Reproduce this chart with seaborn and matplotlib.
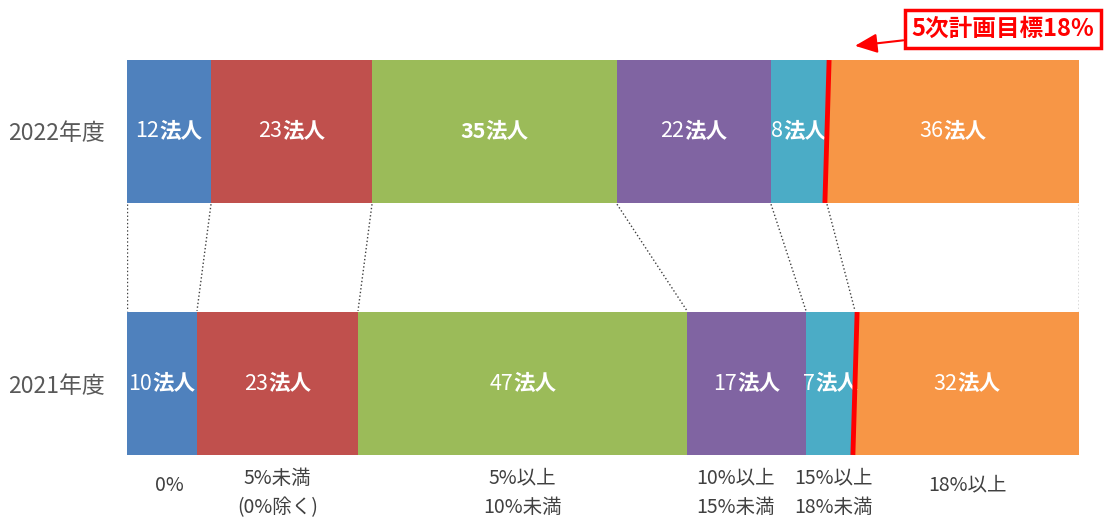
import pandas as pd
import matplotlib.pyplot as plt
import seaborn as sns
from matplotlib.offsetbox import TextArea, HPacker, AnnotationBbox

sns.set_style("white")
plt.rcParams['font.family'] = ['Noto Sans CJK JP', 'DejaVu Sans']

# data
years = ['2022年度', '2021年度']
groups = ['0%', '5%未満\n(0%除く)', '5%以上\n10%未満', '10%以上\n15%未満', '15%以上\n18%未満', '18%以上']
counts_2022 = [12, 23, 35, 22, 8, 36]
counts_2021 = [10, 23, 47, 17, 7, 32]
colors = ['#4F81BD', '#C0504D', '#9BBB59', '#8064A2', '#4BACC6', '#F79646']
target_idx = 5  # segment that starts at the 18% target

rows = []
for year, counts in zip(years, [counts_2022, counts_2021]):
    cum = 0
    for g, c in zip(groups, counts):
        cum += c
        rows.append({'year': year, 'group': g, 'count': c, 'cum': cum})
df = pd.DataFrame(rows)
df['start'] = df['cum'] - df['count']
total = df.groupby('year')['count'].sum().max()

fig = plt.figure(figsize=(11.1, 5.21), dpi=100)
ax = fig.add_axes([127 / 1110, 0, 952 / 1110, 1])

bar_h = 0.567
# stacked bars by overlaying cumulative totals, widest first
for g, col in reversed(list(zip(groups, colors))):
    sns.barplot(data=df[df['group'] == g], x='cum', y='year', order=years,
                color=col, width=bar_h, orient='h', linewidth=0,
                saturation=1, ax=ax)

ax.set_xlim(0, total)
ax.set_ylim(1.5456, -0.5218)
ax.set_xlabel('')
ax.set_ylabel('')
ax.set_xticks([])
sns.despine(ax=ax, left=True, bottom=True)
ax.tick_params(axis='y', length=0, pad=16, labelsize=16.5, labelcolor='#595959')

# segment labels: number regular, 法人 bold
for _, r in df.iterrows():
    yi = years.index(r['year'])
    bold_num = (r['year'] == '2022年度' and r['count'] == 35)
    num = TextArea(str(r['count']), textprops=dict(color='white', fontsize=15.5,
                                                  fontweight='bold' if bold_num else 'normal'))
    unit = TextArea('法人', textprops=dict(color='white', fontsize=15.5, fontweight='bold'))
    pack = HPacker(children=[num, unit], pad=0, sep=0, align='baseline')
    ab = AnnotationBbox(pack, (r['start'] + r['count'] / 2, yi), frameon=False,
                        box_alignment=(0.5, 0.5), pad=0)
    ax.add_artist(ab)

# dotted connectors between the bars
b22 = [0] + list(df[df['year'] == years[0]]['cum'])
b21 = [0] + list(df[df['year'] == years[1]]['cum'])
for x0, x1 in zip(b22, b21):
    ax.plot([x0, x1], [bar_h / 2 + 0.005, 1 - bar_h / 2 - 0.005], ls=':', lw=1,
            color='#404040', zorder=1)

# red 18% target lines
for yi, bounds in enumerate([b22, b21]):
    b = bounds[target_idx]
    ax.plot([b + 0.3, b - 0.3], [yi - bar_h / 2, yi + bar_h / 2], color='#FF0000',
            lw=3.5, solid_capstyle='butt', zorder=5)

# category labels under the bars (the two narrow ones nudged apart a little)
nudge = [1.0, 0, 0, -1.5, 0.5, 0]
sub = df[df['year'] == years[1]].reset_index(drop=True)
for i, r in sub.iterrows():
    two = '\n' in r['group']
    ax.text(r['start'] + r['count'] / 2 + nudge[i], 1.434 if two else 1.403, r['group'],
            ha='center', va='center', fontsize=14, color='#404040', linespacing=1.5)

# target annotation
ax.annotate('5次計画目標18%', xy=(b22[target_idx] + 4, -0.34), xycoords='data',
            xytext=(1003, 492), textcoords='figure pixels',
            ha='center', va='center', fontsize=17, fontweight='bold', color='#FF0000',
            bbox=dict(boxstyle='square,pad=0.3', fc='white', ec='#FF0000', lw=2.5),
            arrowprops=dict(arrowstyle='-|>,head_length=0.8,head_width=0.35',
                            color='#FF0000', lw=1.5, shrinkA=0, shrinkB=0))

fig.savefig('out.png', dpi=100)
